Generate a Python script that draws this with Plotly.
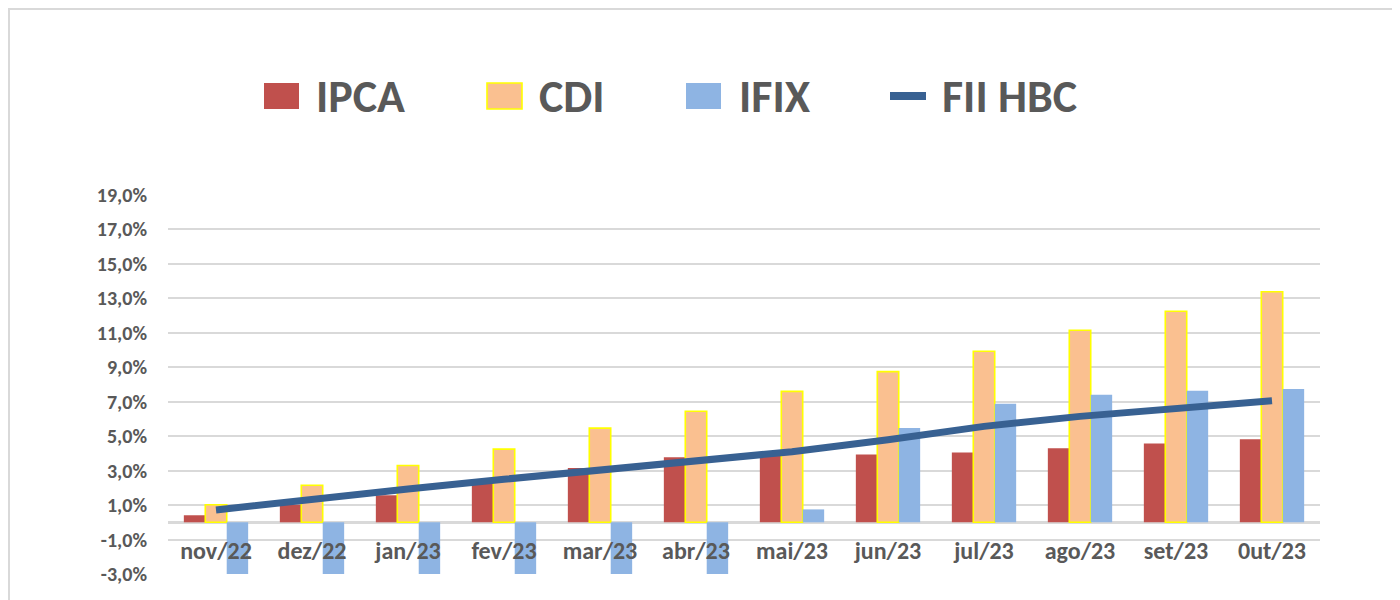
import plotly.graph_objects as go

# ---------------- data ----------------
months = ["nov/22", "dez/22", "jan/23", "fev/23", "mar/23", "abr/23",
          "mai/23", "jun/23", "jul/23", "ago/23", "set/23", "0ut/23"]
ipca = [0.41, 1.03, 1.57, 2.42, 3.15, 3.78, 4.02, 3.94, 4.06, 4.30, 4.57, 4.82]
cdi = [1.02, 2.15, 3.30, 4.25, 5.47, 6.45, 7.60, 8.75, 9.93, 11.15, 12.25, 13.38]
ifix = [-4.2, -4.1, -5.6, -6.0, -7.6, -4.4, 0.75, 5.47, 6.88, 7.40, 7.64, 7.74]
fii_hbc = [0.72, 1.36, 1.94, 2.50, 3.05, 3.53, 4.10, 4.79, 5.57, 6.15, 6.63, 7.06]
y_tick_vals = [-3, -1, 1, 3, 5, 7, 9, 11, 13, 15, 17, 19]
y_tick_labels = ["-3,0%", "-1,0%", "1,0%", "3,0%", "5,0%", "7,0%", "9,0%",
                 "11,0%", "13,0%", "15,0%", "17,0%", "19,0%"]
series_names = ["IPCA", "CDI", "IFIX", "FII HBC"]

# ---------------- styles ----------------
C_IPCA = "#C0504D"
C_CDI = "#FAC090"
C_CDI_EDGE = "#FFFF00"
C_IFIX = "#8EB4E3"
C_LINE = "#386192"
TXT = "#595959"
GRID = "#D9D9D9"
FONT = "Carlito, Lato, sans-serif"

OFF = 8  # page body margin of the html page
W, H = 1400 - OFF, 600 - OFF
# plot-area edges in page pixels
L, R, T, B = 168, 1320, 195, 574
YMIN, YMAX = -3, 19


def px_x(px):
    return (px - L) / (R - L)


def px_y(py):
    return (B - py) / (B - T)


fig = go.Figure()
fig.add_trace(go.Bar(x=months, y=ipca, name=series_names[0],
                     marker=dict(color=C_IPCA, line=dict(width=0))))
fig.add_trace(go.Bar(x=months, y=cdi, name=series_names[1],
                     marker=dict(color=C_CDI, line=dict(color=C_CDI_EDGE, width=1.6))))
fig.add_trace(go.Bar(x=months, y=ifix, name=series_names[2],
                     marker=dict(color=C_IFIX, line=dict(width=0))))
fig.add_trace(go.Scatter(x=months, y=fii_hbc, name=series_names[3], mode="lines",
                         line=dict(color=C_LINE, width=7)))

# ---------------- manual legend (large symbols) ----------------
shapes = []
annotations = []
leg_y0, leg_y1, leg_mid = 83, 109, 96
sym_x = [264, 487, 686]
txt_x = [316, 539, 739, 942]
fills = [(C_IPCA, C_IPCA, 0), (C_CDI, C_CDI_EDGE, 1.6), (C_IFIX, C_IFIX, 0)]
for i in range(3):
    fc, lc, lw = fills[i]
    shapes.append(dict(type="rect", xref="paper", yref="paper",
                       x0=px_x(sym_x[i]), x1=px_x(sym_x[i] + 35),
                       y0=px_y(leg_y1), y1=px_y(leg_y0),
                       fillcolor=fc, line=dict(color=lc, width=lw), layer="above"))
shapes.append(dict(type="line", xref="paper", yref="paper",
                   x0=px_x(890), x1=px_x(926), y0=px_y(leg_mid), y1=px_y(leg_mid),
                   line=dict(color=C_LINE, width=8), layer="above"))
for i, nm in enumerate(series_names):
    annotations.append(dict(text=nm, xref="paper", yref="paper",
                            x=px_x(txt_x[i] - 2), y=px_y(leg_mid),
                            xanchor="left", yanchor="middle", showarrow=False,
                            font=dict(family=FONT, size=46, color=TXT, weight="bold")))

# outer border
shapes.append(dict(type="rect", xref="paper", yref="paper",
                   x0=px_x(OFF + 1), x1=px_x(1395), y0=px_y(640), y1=px_y(OFF + 1),
                   line=dict(color=GRID, width=2), fillcolor="rgba(0,0,0,0)", layer="below"))

fig.update_layout(
    width=W, height=H,
    margin=dict(l=L - OFF, r=W + OFF - R, t=T - OFF, b=H + OFF - B, pad=0),
    paper_bgcolor="white", plot_bgcolor="white",
    barmode="group", bargap=0.33, bargroupgap=0,
    showlegend=False,
    shapes=shapes, annotations=annotations,
    font=dict(family=FONT, color=TXT),
    xaxis=dict(type="category", anchor="free", position=(0 - YMIN) / (YMAX - YMIN),
               showgrid=False, showline=False, ticks="", zeroline=False,
               tickfont=dict(family=FONT, size=24, color=TXT, weight="bold"),
               ticklabelstandoff=12, layer="above traces"),
    yaxis=dict(range=[YMIN, YMAX], tickvals=y_tick_vals, ticktext=y_tick_labels,
               showgrid=True, gridcolor=GRID, gridwidth=1.6,
               zeroline=True, zerolinecolor=GRID, zerolinewidth=2.5,
               showline=False, ticks="",
               tickfont=dict(family=FONT, size=20, color=TXT, weight="bold"),
               ticklabelstandoff=20),
)

fig.write_html("out.html")
